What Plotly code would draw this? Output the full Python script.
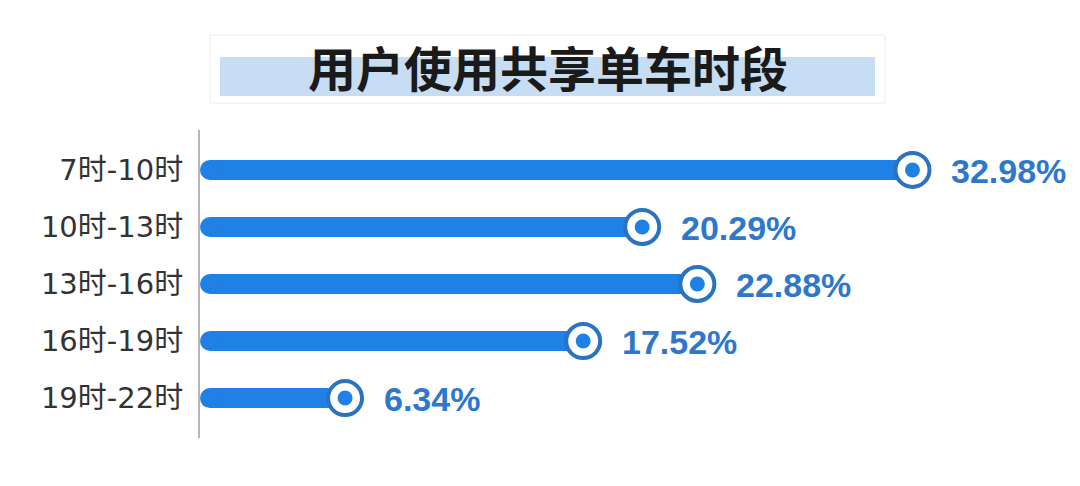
import plotly.graph_objects as go

categories = ["7时-10时", "10时-13时", "13时-16时", "16时-19时", "19时-22时"]
values = [32.98, 20.29, 22.88, 17.52, 6.34]
labels = ["32.98%", "20.29%", "22.88%", "17.52%", "6.34%"]
title_text = "用户使用共享单车时段"

BAR = "#1f80e6"
RING = "#2a72c2"
TXT = "#2d78cb"

OFF = 8  # page offset compensation (screen px = fig px + OFF)
W, H = 1080, 486
L, T, B = 200 - OFF, 130 - OFF, 48 + OFF
PW, PH = W - L, H - T - B


def px(xs):
    return (xs - OFF - L) / PW


def py(ys):
    return (H - B - (ys - OFF)) / PH


fig = go.Figure()

for cat, v in zip(categories, values):
    fig.add_trace(go.Scatter(
        x=[0, v], y=[cat, cat], mode="lines",
        line=dict(color=BAR, width=20), hoverinfo="skip", showlegend=False))
    fig.add_trace(go.Scatter(
        x=[0], y=[cat], mode="markers",
        marker=dict(size=20, color=BAR, line=dict(width=0)),
        hoverinfo="skip", showlegend=False))

fig.add_trace(go.Scatter(
    x=values, y=categories, mode="markers",
    marker=dict(size=34, color="white", line=dict(width=4, color=RING)),
    hoverinfo="skip", showlegend=False))
fig.add_trace(go.Scatter(
    x=values, y=categories, mode="markers",
    marker=dict(size=15, color=BAR, line=dict(width=0)),
    hoverinfo="skip", showlegend=False))

for cat, v, lab in zip(categories, values, labels):
    fig.add_annotation(
        x=v, y=cat, text="<b>" + lab + "</b>", showarrow=False, xanchor="left", yanchor="middle",
        xshift=37, yshift=-1,
        font=dict(family="Liberation Sans, Arial, sans-serif", size=34, color=TXT))

# title
fig.add_shape(type="rect", xref="paper", yref="paper",
              x0=px(210), x1=px(885), y0=py(103), y1=py(35),
              line=dict(color="#ececec", width=1), fillcolor="rgba(255,255,255,0)", layer="below")
fig.add_shape(type="rect", xref="paper", yref="paper",
              x0=px(220), x1=px(875), y0=py(96), y1=py(57),
              line=dict(width=0), fillcolor="#c6ddf4", layer="below")
fig.add_annotation(
    x=px(548), y=py(66), xref="paper", yref="paper",
    text="<b>" + title_text + "</b>", showarrow=False, xanchor="center", yanchor="middle",
    font=dict(family="Noto Sans CJK SC", size=48, color="#1a1a1a"))

fig.update_layout(
    width=W, height=H,
    margin=dict(l=L, r=0, t=T, b=B),
    paper_bgcolor="white", plot_bgcolor="white",
    xaxis=dict(range=[-0.47, (W - L) / 21.3 - 0.47], visible=False, showgrid=False, zeroline=False),
    yaxis=dict(type="category", categoryorder="array", categoryarray=categories,
               range=[4.7, -0.7], showgrid=False, zeroline=False,
               showline=True, linecolor="#b5b5b5", linewidth=2,
               ticks="", ticklabelstandoff=9,
               tickfont=dict(family="DejaVu Sans, Noto Sans CJK SC", size=29, color="#333333")),
)

fig.write_html("out.html")
